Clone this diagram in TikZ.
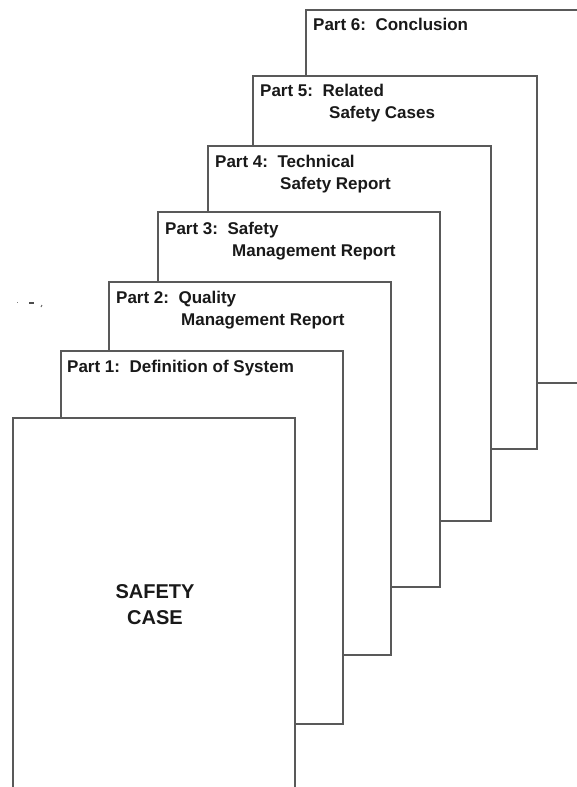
\documentclass[tikz,border=0pt]{standalone}
\usepackage{fontspec}
\setmainfont{Liberation Sans}
\begin{document}
\begin{tikzpicture}[x=1pt,y=-1pt,
  pagebox/.style={draw=black!65,fill=white,line width=1.2pt},
  lbl/.style={inner sep=0pt,anchor=base west,text=black!90,font=\fontsize{17}{20}\selectfont\bfseries},
  biglbl/.style={inner sep=0pt,anchor=base,text=black!90,font=\fontsize{20}{24}\selectfont\bfseries}]
\useasboundingbox (0,0) rectangle (576,787);
% pages from back to front
\path[pagebox] (306,10) rectangle (590,383);
\path[pagebox] (253,76) rectangle (537,449);
\path[pagebox] (208,146) rectangle (491,521);
\path[pagebox] (158,212) rectangle (440,587);
\path[pagebox] (109,282) rectangle (391,655);
\path[pagebox] (61,351) rectangle (343,724);
\path[pagebox] (13,418) rectangle (295,800);
% small scan marks
\draw[black!50,line width=1pt] (17,302) -- (18,302);
\draw[black!70,line width=1.3pt] (29,303) -- (34,303);
\draw[black!60,line width=1pt] (42,305) -- (41,307);
% labels
\node[lbl] (p6) at (313,30) {Part 6:\ \ Conclusion};
\node[lbl] (p5) at (260,96) {Part 5:\ \ Related};
\node[lbl] (p5b) at (329,118) {Safety Cases};
\node[lbl] (p4) at (215,167) {Part 4:\ \ Technical};
\node[lbl] (p4b) at (280,189) {Safety Report};
\node[lbl] (p3) at (165,234) {Part 3:\ \ Safety};
\node[lbl] (p3b) at (232,256) {Management Report};
\node[lbl] (p2) at (116,303) {Part 2:\ \ Quality};
\node[lbl] (p2b) at (181,325) {Management Report};
\node[lbl] (p1) at (67,372) {Part 1:\ \ Definition of System};
\node[biglbl] (sc1) at (155,598) {SAFETY};
\node[biglbl] (sc2) at (155,624) {CASE};
\end{tikzpicture}
\end{document}
